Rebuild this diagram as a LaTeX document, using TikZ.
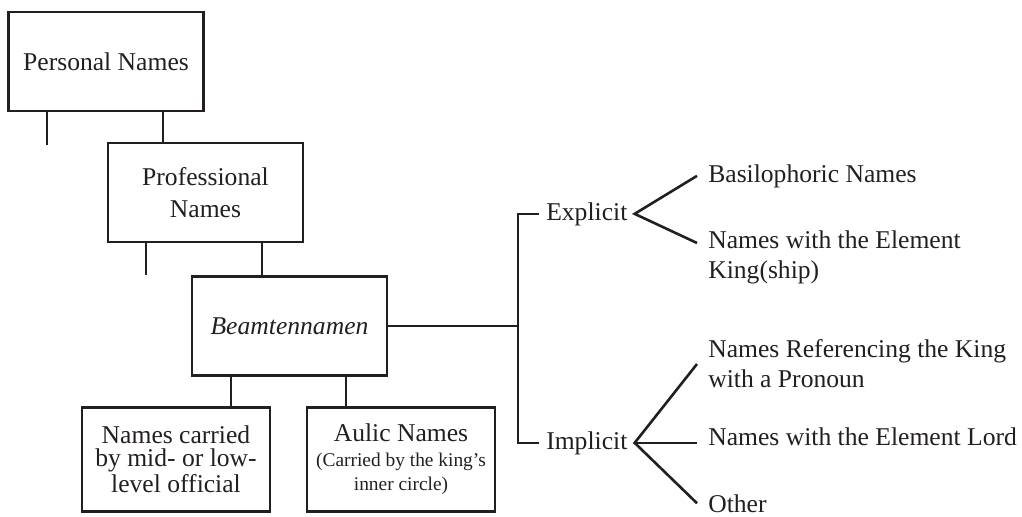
\documentclass[tikz,border=0pt]{standalone}
\usepackage{fontspec}
\setmainfont{Liberation Serif}
\usepackage{tikz}
\usetikzlibrary{positioning}
\definecolor{ink}{HTML}{231F20}

\begin{document}
\begin{tikzpicture}[x=0.5pt,y=-0.5pt,line width=1.3pt,color=ink,
    every node/.style={font=\fontsize{12.8}{15}\selectfont},
    box/.style={draw,minimum width=97.5pt,minimum height=49.5pt,align=center,inner sep=0pt},
    lowbox/.style={box,minimum width=94pt,minimum height=52pt},
    branch/.style={inner xsep=3pt,inner ysep=0pt},
    leaf/.style={inner xsep=5pt,inner ysep=0pt,align=left}]
  \useasboundingbox (0,0) rectangle (1022,516);
  \node[box] (personal) at (106,61.5) {Personal Names};
  \node[box,font=\fontsize{12.8}{16}\selectfont] (professional) at (205.5,192.5) {Professional\\Names};
  \node[box] (beamten) at (289.5,326) {\textit{Beamtennamen}};
  \node[lowbox,font=\fontsize{12.8}{11.5}\selectfont] (carried) at (176,459.5) {Names carried\\by mid- or low-\\level official};
  \node[lowbox,font=\fontsize{12.8}{12}\selectfont] (aulic) at (401,459.5) {Aulic Names\\[0.5pt]\fontsize{9.7}{12}\selectfont (Carried by the king's\\\fontsize{9.7}{12}\selectfont inner circle)};
  \node[branch,anchor=base west] (explicit) at (539,220) {Explicit};
  \node[branch,anchor=base west] (implicit) at (539,449) {Implicit};
  \node[leaf,anchor=base west] (basil) at (697,182) {Basilophoric Names};
  \node[leaf,anchor=west] (kingship) at (697,257) {Names with the Element\\King(ship)};
  \node[leaf,anchor=west] (pronoun) at (697,364) {Names Referencing the King\\with a Pronoun};
  \node[leaf,anchor=base west] (lord) at (697,445) {Names with the Element Lord};
  \node[leaf,anchor=base west] (other) at (697,512) {Other};
  \draw ([xshift=-29.5pt]personal.south) -- ++(0,33);
  \draw ([xshift=28.5pt]personal.south) coordinate (pa) -- (pa |- professional.north);
  \draw ([xshift=-29.75pt]professional.south) -- ++(0,32);
  \draw ([xshift=28.25pt]professional.south) coordinate (pb) -- (pb |- beamten.north);
  \draw ([xshift=-29.25pt]beamten.south) coordinate (bc) -- (bc |- carried.north);
  \draw ([xshift=28.25pt]beamten.south) coordinate (bd) -- (bd |- aulic.north);
  \coordinate (split) at (518,0);
  \draw (beamten.east) -- (beamten.east -| split);
  \draw (explicit.west) -| (split |- implicit.west) -- (implicit.west);
  \draw (basil.west) -- (explicit.east) -- ([yshift=7pt]kingship.west);
  \draw (pronoun.west) -- (implicit.east) -- (other.west);
  \draw (implicit.east) -- (implicit.east -| lord.west);
\end{tikzpicture}
\end{document}
